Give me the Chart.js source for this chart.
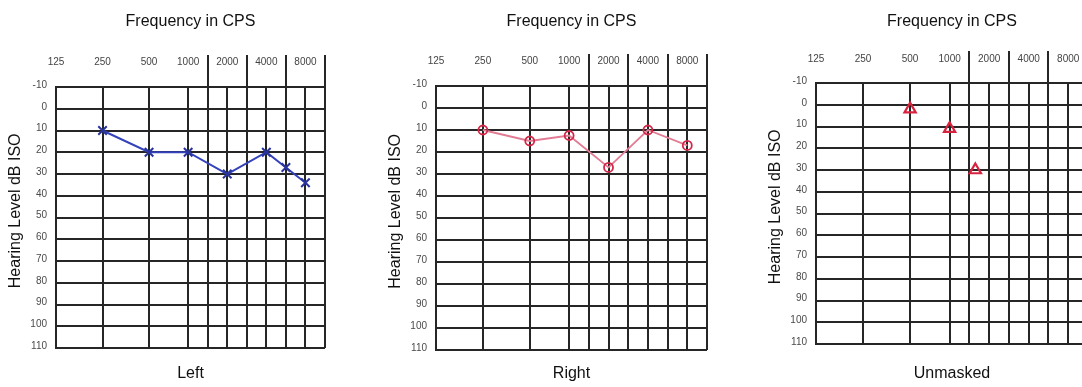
<!DOCTYPE html>
<html>
<head>
<meta charset="utf-8">
<script src="https://cdn.jsdelivr.net/npm/chart.js@4.4.1/dist/chart.umd.min.js"></script>
<style>
  html, body { margin: 0; padding: 0; background: #fff; }
  #wrap { position: relative; width: 1082px; height: 387px; overflow: hidden; }
  #wrap canvas { position: absolute; top: 0; }
</style>
</head>
<body>
<div id="wrap">
  <canvas id="leftChart" width="362" height="387" style="left:0px"></canvas>
  <canvas id="rightChart" width="364" height="387" style="left:380px"></canvas>
  <canvas id="unmaskedChart" width="365" height="387" style="left:760px"></canvas>
</div>
<script>
// Audiogram panels: left ear, right ear, unmasked
const gridFreqs = [125, 250, 500, 1000, 1500, 2000, 3000, 4000, 6000, 8000, 12000]
const freqLabels = ['125', '250', '500', '1000', '', '2000', '', '4000', '', '8000', '']
const dividerFreqs = [1500, 3000, 6000, 12000]
const dbMin = -10
const dbMax = 110
const dbStep = 10

const leftFreqs = [250, 500, 1000, 2000, 4000, 6000, 8000]
const leftDb = [10, 20, 20, 30, 20, 27, 34]

const rightFreqs = [250, 500, 1000, 2000, 4000, 8000]
const rightDb = [10, 15, 12.5, 27, 10, 17]

const unmaskedFreqs = [500, 1000, 1650]
const unmaskedDb = [2, 11, 30]

const gridColor = '#262626'
const gridWidth = 2
const CANVAS_H = 387

Chart.defaults.font.family = '"Liberation Sans", Arial, sans-serif'

// paper layout: octaves from 125 Hz, half-octave lines between; the two low octaves are printed wider
const LOW_STRETCH = 1.19
const octave = (f) => Math.round(2 * Math.log2(f / 125)) / 2
function freqPos(f) {
  let i = 0
  while (i < gridFreqs.length - 2 && f > gridFreqs[i + 1]) i++
  const f0 = gridFreqs[i], f1 = gridFreqs[i + 1]
  const o = octave(f0) + (octave(f1) - octave(f0)) * (f - f0) / (f1 - f0)
  return o <= 2 ? o * LOW_STRETCH : 2 * LOW_STRETCH + (o - 2)
}
const toPoints = (freqs, dbs) => freqs.map((f, i) => ({ x: freqPos(f), y: dbs[i] }))

// the half-octave lines run up through the label strip
const dividers = {
  id: 'dividers',
  afterDraw(chart) {
    const { ctx, chartArea, scales: { x } } = chart
    ctx.save()
    ctx.strokeStyle = gridColor
    ctx.lineWidth = gridWidth
    dividerFreqs.forEach((f) => {
      const px = Math.round(x.getPixelForValue(freqPos(f)))
      ctx.beginPath()
      ctx.moveTo(px, chartArea.top - 32)
      ctx.lineTo(px, chartArea.top)
      ctx.stroke()
    })
    ctx.restore()
  },
}

function makePanel(id, name, datasets, box) {
  const xMin = freqPos(gridFreqs[0])
  const xMax = freqPos(gridFreqs[gridFreqs.length - 1])
  return new Chart(document.getElementById(id), {
    type: 'line',
    data: { datasets },
    options: {
      responsive: false,
      animation: false,
      layout: { padding: { left: 0, right: box.right, top: 0, bottom: 0 } },
      plugins: { legend: { display: false }, tooltip: { enabled: false } },
      scales: {
        x: {
          type: 'linear', position: 'top', min: xMin, max: xMax,
          afterBuildTicks: (s) => { s.ticks = gridFreqs.map((f) => ({ value: freqPos(f) })) },
          afterFit: (s) => { s.height = box.top },
          ticks: {
            autoSkip: false, maxRotation: 0, padding: box.tickPad,
            color: '#444', font: { size: 10 },
            callback: (v, i) => freqLabels[i],
          },
          grid: { color: gridColor, lineWidth: gridWidth, drawTicks: false },
          border: { color: gridColor, width: gridWidth },
          title: { display: true, text: 'Frequency in CPS', color: '#111', font: { size: 16 }, padding: { top: 12, bottom: 0 } },
        },
        xb: {
          type: 'linear', position: 'bottom', min: xMin, max: xMax,
          afterFit: (s) => { s.height = CANVAS_H - box.bottom },
          ticks: { display: false },
          grid: { display: false },
          border: { display: false },
          title: { display: true, text: name, color: '#111', font: { size: 16 }, padding: { top: 0, bottom: 4 } },
        },
        y: {
          type: 'linear', reverse: true, min: dbMin, max: dbMax,
          afterFit: (s) => { s.width = 56 },
          ticks: { stepSize: dbStep, color: '#4a4a4a', font: { size: 10 }, padding: 9, labelOffset: -2 },
          grid: { color: gridColor, lineWidth: gridWidth, drawTicks: false },
          border: { color: gridColor, width: gridWidth },
          // leading spaces nudge the rotated title up a little, as on the scanned sheet
          title: { display: true, text: '\u00a0\u00a0\u00a0Hearing Level dB ISO', color: '#111', font: { size: 16 }, padding: { top: 6, bottom: 0 } },
        },
      },
    },
    plugins: [dividers],
  })
}

makePanel('leftChart', 'Left', [{
  data: toPoints(leftFreqs, leftDb), xAxisID: 'x', yAxisID: 'y',
  borderColor: '#3442bb', borderWidth: 2, tension: 0,
  pointStyle: 'crossRot', pointRadius: 6, pointBorderWidth: 2,
  pointBorderColor: '#28339e', pointBackgroundColor: 'transparent',
}], { top: 87, bottom: 348, right: 37, tickPad: 19 })

makePanel('rightChart', 'Right', [{
  data: toPoints(rightFreqs, rightDb), xAxisID: 'x', yAxisID: 'y',
  borderColor: '#e27b93', borderWidth: 1.8, tension: 0,
  pointStyle: 'circle', pointRadius: 4.5, pointBorderWidth: 1.8,
  pointBorderColor: '#d42747', pointBackgroundColor: 'transparent',
}], { top: 86, bottom: 350, right: 37, tickPad: 19 })

makePanel('unmaskedChart', 'Unmasked', [{
  data: toPoints(unmaskedFreqs, unmaskedDb), xAxisID: 'x', yAxisID: 'y',
  showLine: false,
  pointStyle: 'triangle', pointRadius: 6.5, pointBorderWidth: 2.2,
  pointBorderColor: '#d8233f', pointBackgroundColor: 'transparent',
}], { top: 83, bottom: 344, right: 37, tickPad: 18 })
</script>
</body>
</html>
